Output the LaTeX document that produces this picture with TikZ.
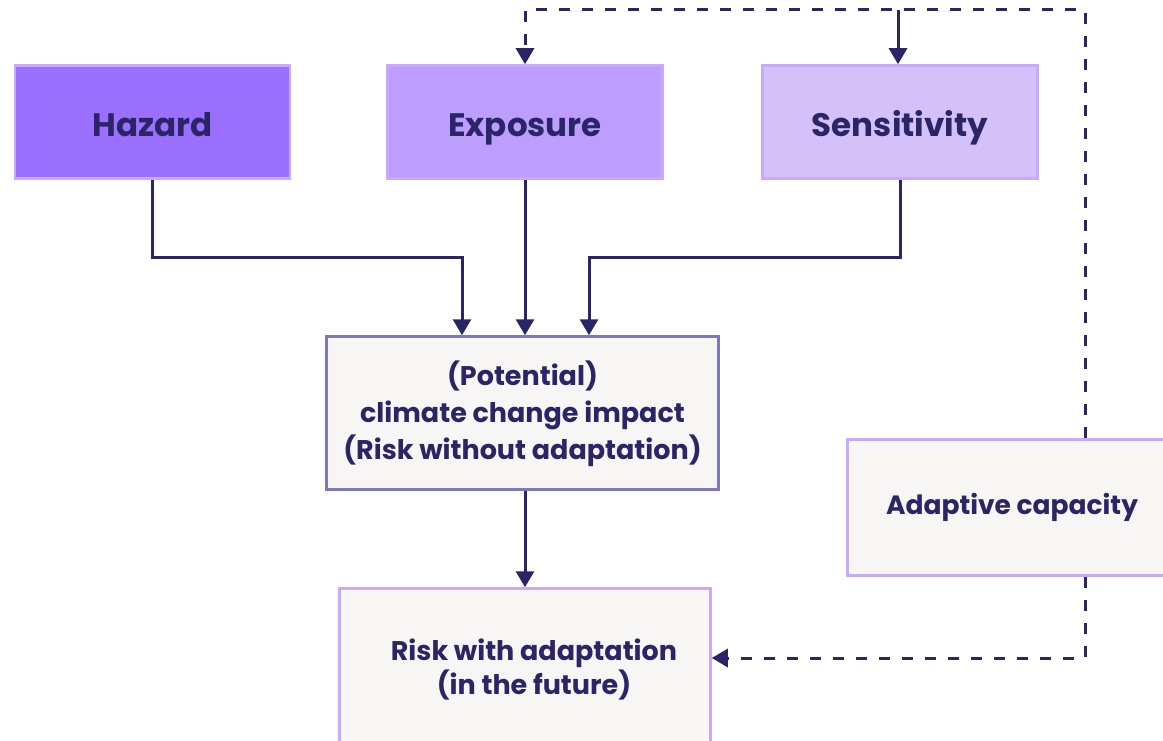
\documentclass[tikz,border=0pt]{standalone}
\usepackage{fontspec}
\setmainfont{Poppins}
\usepackage{xcolor}
\usetikzlibrary{arrows.meta, positioning}

\definecolor{navy}{HTML}{2A2566}
\definecolor{hazardfill}{HTML}{9C70FF}
\definecolor{exposurefill}{HTML}{BD9EFF}
\definecolor{sensitivityfill}{HTML}{D5C1FA}
\definecolor{lightedge}{HTML}{C8A9FF}
\definecolor{impactedge}{HTML}{7A78C2}
\definecolor{paper}{HTML}{F7F6F5}

\begin{document}
\begin{tikzpicture}[x=1pt, y=-1pt,
    factor/.style={rectangle, draw=lightedge, line width=2.5pt, minimum width=275pt, minimum height=113pt, text height=30pt, text depth=0pt, text=navy, font=\bfseries\fontsize{32.5}{38}\selectfont},
    result/.style={rectangle, fill=paper, line width=2.5pt, align=center, text=navy, font=\bfseries\fontsize{27}{37}\selectfont},
    arrow/.style={-{Triangle[length=16pt, width=18pt]}, draw=navy, line width=3pt},
    feedback/.style={arrow, dash pattern=on 11pt off 12pt},
]
\path[use as bounding box, clip] (0,0) rectangle (1163,741);

% Factors
\node[factor, fill=hazardfill] (haz) at (152.5,122) {Hazard};
\node[factor, fill=exposurefill] (exp) at (525,122) {Exposure};
\node[factor, fill=sensitivityfill] (sen) at (900,122) {Sensitivity};

% Impact and risk
\node[result, draw=impactedge, minimum width=392pt, minimum height=153pt, text depth=5pt] (imp) at (522.5,413) {(Potential)\\climate change impact\\(Risk without adaptation)};
\node[result, draw=lightedge, minimum width=371pt, minimum height=163pt, font=\bfseries\fontsize{27}{34}\selectfont] (risk) at (525,670) {\hspace*{18pt}Risk with adaptation\\\hspace*{18pt}(in the future)};
\node[result, draw=lightedge, minimum width=329pt, minimum height=136pt, font=\bfseries\fontsize{26.5}{34}\selectfont] (adapt) at (1012,507.5) {Adaptive capacity};

\coordinate (top) at (0,10);

% Arrows
\draw[arrow] (haz.south) -- ++(0,78) -| ([xshift=-60.5pt]imp.north);
\draw[arrow] (exp.south) -- (exp.south |- imp.north);
\draw[arrow] (sen.south) -- ++(0,78) -| ([xshift=66.5pt]imp.north);
\draw[arrow] (imp.south -| exp.south) -- (risk.north -| exp.south);

% Adaptive capacity feedback
\draw[feedback] ([xshift=73pt]adapt.north) -- ([xshift=73pt]adapt.north |- top) -| (exp.north);
\draw[arrow] ([xshift=-2pt]sen.north |- top) -- ([xshift=-2pt]sen.north);
\draw[feedback] ([xshift=73pt]adapt.south) |- ([yshift=12pt]risk.east);

\end{tikzpicture}
\end{document}
